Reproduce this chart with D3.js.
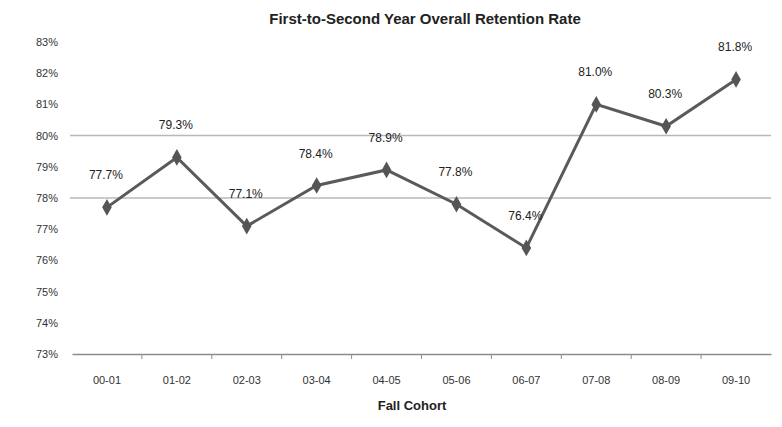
<!DOCTYPE html>
<html>
<head>
<meta charset="utf-8">
<script src="https://cdn.jsdelivr.net/npm/d3@7"></script>
<style>
  body { margin: 0; background: #fff; }
  text { font-family: "Liberation Sans", Arial, sans-serif; }
</style>
</head>
<body>
<svg width="782" height="427"></svg>
<script>
const cohorts = ["00-01", "01-02", "02-03", "03-04", "04-05", "05-06", "06-07", "07-08", "08-09", "09-10"];
const retention = [77.7, 79.3, 77.1, 78.4, 78.9, 77.8, 76.4, 81.0, 80.3, 81.8];
const yTicks = [73, 74, 75, 76, 77, 78, 79, 80, 81, 82, 83];
const gridValues = [80, 78];

const svg = d3.select("svg"),
    margin = { top: 42, right: 11, bottom: 73, left: 72 },
    width = +svg.attr("width"),
    height = +svg.attr("height");

const x = d3.scaleBand().domain(cohorts).range([margin.left, width - margin.right]);
const y = d3.scaleLinear().domain([73, 83]).range([height - margin.bottom, margin.top]);

// title
svg.append("text")
    .attr("x", 425).attr("y", 24)
    .attr("text-anchor", "middle")
    .attr("font-size", 15).attr("font-weight", "bold")
    .attr("fill", "#222")
    .text("First-to-Second Year Overall Retention Rate");

// gridlines
svg.append("g").selectAll("line")
  .data(gridValues)
  .join("line")
    .attr("x1", margin.left - 2).attr("x2", width - margin.right)
    .attr("y1", d => y(d)).attr("y2", d => y(d))
    .attr("stroke", "#b8b8b8").attr("stroke-width", 1.5);

// y axis labels
const yAxis = svg.append("g")
    .attr("transform", "translate(" + margin.left + ",0)")
    .call(d3.axisLeft(y).tickValues(yTicks).tickFormat(d => d + "%").tickSize(0).tickPadding(14));
yAxis.select(".domain").remove();
yAxis.selectAll("text").attr("font-size", 11).attr("fill", "#333");

// x axis
const xAxis = svg.append("g")
    .attr("transform", "translate(0," + y(73) + ")")
    .call(d3.axisBottom(x).tickSize(0).tickPadding(22));
xAxis.select(".domain").attr("stroke", "#8c8c8c").attr("stroke-width", 1.5);
xAxis.selectAll("text").attr("font-size", 11).attr("fill", "#333");

// tick marks between categories
svg.append("g").selectAll("line")
  .data(cohorts.slice(1))
  .join("line")
    .attr("x1", d => x(d)).attr("x2", d => x(d))
    .attr("y1", y(73)).attr("y2", y(73) + 5)
    .attr("stroke", "#8c8c8c").attr("stroke-width", 1);

svg.append("text")
    .attr("x", 412).attr("y", 410)
    .attr("text-anchor", "middle")
    .attr("font-size", 13).attr("font-weight", "bold")
    .attr("fill", "#222")
    .text("Fall Cohort");

const points = cohorts.map((c, i) => ({ c, v: retention[i] }));

// line
svg.append("path")
    .datum(points)
    .attr("fill", "none")
    .attr("stroke", "#5a5a5a").attr("stroke-width", 3)
    .attr("d", d3.line().x(d => x(d.c) + x.bandwidth() / 2).y(d => y(d.v)));

// diamond markers
svg.append("g").selectAll("path")
  .data(points)
  .join("path")
    .attr("transform", d => "translate(" + (x(d.c) + x.bandwidth() / 2) + "," + y(d.v) + ")")
    .attr("d", d3.symbol(d3.symbolDiamond, 80))
    .attr("fill", "#555");

// value labels
svg.append("g").selectAll("text")
  .data(points)
  .join("text")
    .attr("x", d => x(d.c) + x.bandwidth() / 2 - 1)
    .attr("y", d => y(d.v) - 28)
    .attr("text-anchor", "middle")
    .attr("font-size", 12)
    .attr("fill", "#222")
    .text(d => d.v.toFixed(1) + "%");
</script>
</body>
</html>
